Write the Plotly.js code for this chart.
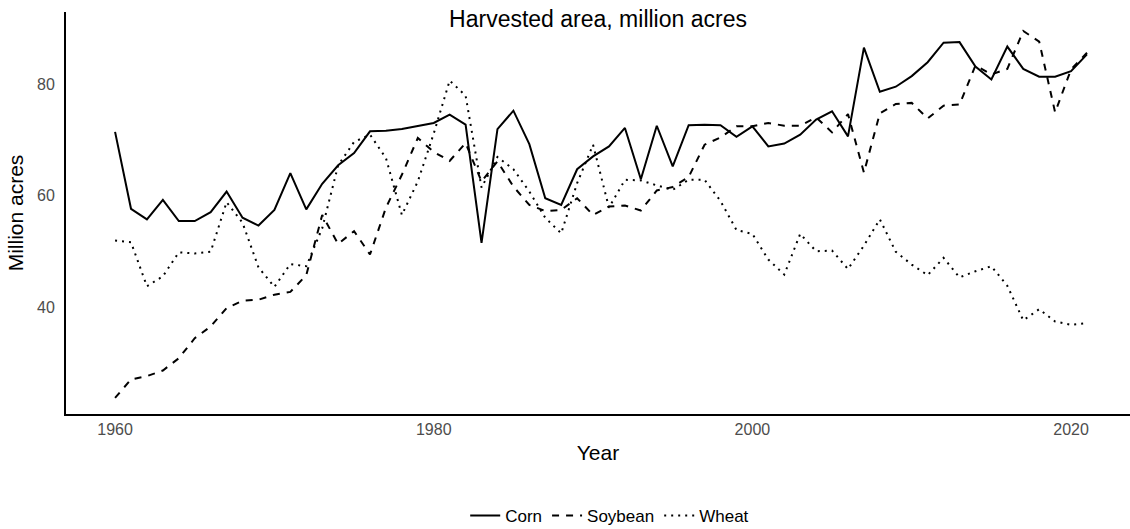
<!DOCTYPE html>
<html>
<head>
<meta charset="utf-8">
<script src="https://cdn.plot.ly/plotly-3.0.1.min.js"></script>
<style>html,body{margin:0;padding:0;background:#fff;}#chart{width:1130px;height:529px;}</style>
</head>
<body>
<div id="chart"></div>
<script>
const years = [];
for (let y = 1960; y <= 2021; y++) years.push(y);

const corn = [71.4,57.6,55.7,59.2,55.4,55.4,57.0,60.7,56.0,54.6,
  57.4,64.0,57.5,62.1,65.4,67.6,71.5,71.6,71.9,72.4,
  73.0,74.5,72.7,51.5,71.9,75.2,69.2,59.5,58.3,64.7,
  67.0,68.8,72.1,62.9,72.5,65.2,72.6,72.7,72.6,70.5,
  72.4,68.8,69.3,70.9,73.6,75.1,70.6,86.5,78.6,79.5,
  81.4,83.9,87.4,87.5,83.1,80.8,86.7,82.7,81.3,81.3,
  82.3,85.3];

const soybean = [23.7,27.0,27.6,28.6,30.8,34.4,36.5,39.8,41.1,41.3,
  42.2,42.7,45.7,56.5,51.3,53.6,49.4,57.8,63.7,70.3,
  67.8,66.2,69.4,62.5,66.1,61.6,58.3,57.2,57.4,59.5,
  56.5,58.0,58.2,57.3,60.9,61.5,63.3,69.1,70.4,72.4,
  72.4,73.0,72.5,72.5,74.0,71.3,74.6,64.1,74.7,76.4,
  76.6,73.8,76.1,76.3,83.3,81.7,82.7,89.5,87.6,74.9,
  82.6,85.6];

const wheat = [51.9,51.6,43.7,45.5,49.8,49.6,49.9,58.8,55.1,47.1,
  43.6,47.7,47.3,54.1,65.4,69.6,70.9,66.7,56.5,62.5,
  71.1,80.6,77.9,61.4,66.9,64.7,60.7,56.0,53.2,62.2,
  69.1,57.8,62.8,62.7,61.8,61.0,62.8,62.8,59.0,53.8,
  53.1,48.5,45.8,53.1,50.0,50.1,46.8,51.0,55.7,49.9,
  47.6,45.7,48.8,45.3,46.4,47.3,43.8,37.6,39.6,37.4,
  36.8,37.1];

const seriesNames = ["Corn", "Soybean", "Wheat"];
const xTicks = [1960, 1980, 2000, 2020];
const yTicks = [40, 60, 80];

const FONT = "Liberation Sans, Arial, sans-serif";
const dashes = ["solid", "7px,7px", "2px,5px"];
const data = [corn, soybean, wheat].map((vals, i) => ({
  type: "scatter",
  mode: "lines",
  x: years,
  y: vals,
  name: seriesNames[i],
  line: {color: "#000000", width: 2, dash: dashes[i]},
  hoverinfo: "skip"
}));

const layout = {
  width: 1130,
  height: 529,
  paper_bgcolor: "#ffffff",
  plot_bgcolor: "#ffffff",
  font: {family: FONT, color: "#000000"},
  margin: {l: 66, r: 0, t: 12, b: 115},
  title: {
    text: "Harvested area, million acres",
    font: {family: FONT, size: 23, color: "#000000"},
    xref: "paper", x: 0.5, xanchor: "center",
    yref: "container", y: 1 - 19/529, yanchor: "middle"
  },
  xaxis: {
    range: [1956.92, 2023.7],
    tickvals: xTicks,
    ticktext: xTicks.map(String),
    showgrid: false,
    zeroline: false,
    showline: true,
    linecolor: "#000000",
    linewidth: 2,
    ticks: "",
    tickfont: {family: FONT, size: 16, color: "#4d4d4d"},
    title: {text: "Year", font: {family: FONT, size: 21, color: "#000000"}, standoff: 8}
  },
  yaxis: {
    range: [20.8, 92.9],
    tickvals: yTicks,
    ticktext: yTicks.map(String),
    showgrid: false,
    zeroline: false,
    showline: true,
    linecolor: "#000000",
    linewidth: 2,
    ticks: "",
    ticklabelstandoff: 6,
    tickfont: {family: FONT, size: 16, color: "#4d4d4d"},
    title: {text: "Million acres", font: {family: FONT, size: 21, color: "#000000"}, standoff: 8}
  },
  showlegend: true,
  legend: {
    orientation: "h",
    xref: "paper", x: 0.511, xanchor: "center",
    yref: "container", y: 1 - 516/529, yanchor: "middle",
    font: {family: FONT, size: 17, color: "#000000"},
    bgcolor: "rgba(0,0,0,0)"
  }
};

Plotly.newPlot("chart", data, layout, {displayModeBar: false, staticPlot: true});
</script>
</body>
</html>
